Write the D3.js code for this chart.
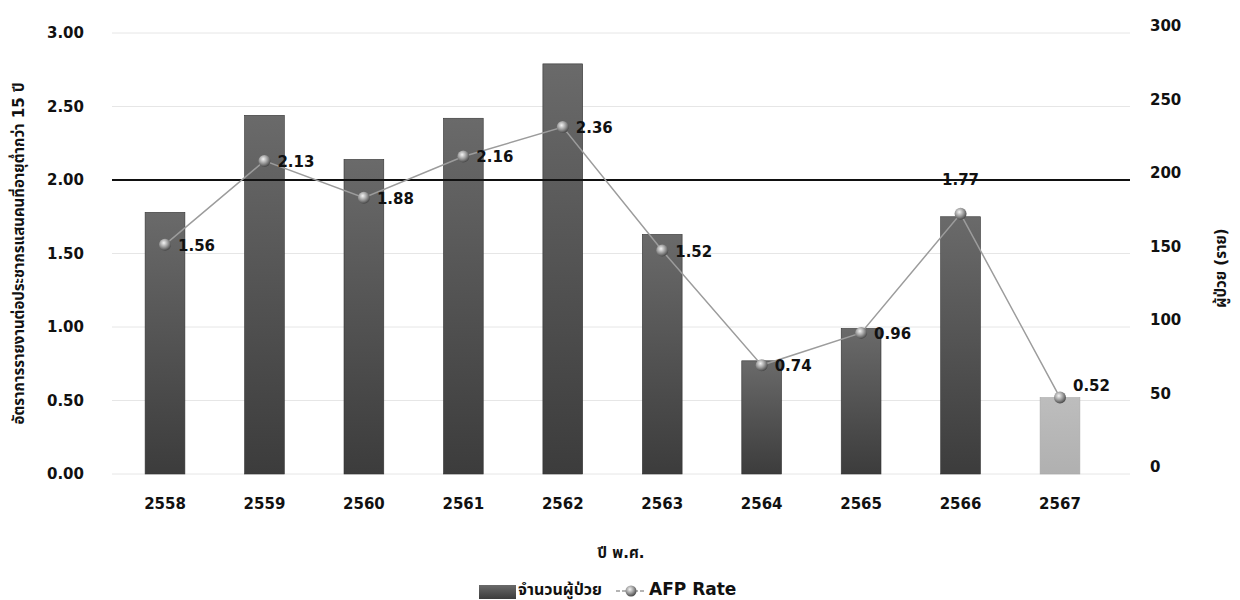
<!DOCTYPE html>
<html>
<head>
<meta charset="utf-8">
<script src="https://cdn.jsdelivr.net/npm/d3@7"></script>
<style>
  body { margin: 0; background: #fff; }
  text { font-family: "DejaVu Sans", Verdana, "Noto Sans Thai", "Noto Sans", sans-serif; font-weight: bold; fill: #111; }
</style>
</head>
<body>
<svg id="chart" width="1240" height="600"></svg>
<script>
const years = ["2558", "2559", "2560", "2561", "2562", "2563", "2564", "2565", "2566", "2567"]
const cases = [178, 244, 214, 242, 279, 163, 77, 99, 175, 52]
const afpRate = [1.56, 2.13, 1.88, 2.16, 2.36, 1.52, 0.74, 0.96, 1.77, 0.52]
const leftTicks = [0, 0.5, 1, 1.5, 2, 2.5, 3]
const rightTicks = [0, 50, 100, 150, 200, 250, 300]
const target = 2.0

const margin = { left: 112, right: 110, top: 33, bottom: 126 }
const width = 1240
const height = 600

const svg = d3.select("#chart")

const defs = svg.append("defs")
const barGrad = defs.append("linearGradient").attr("id", "barGrad").attr("x1", 0).attr("y1", 0).attr("x2", 0).attr("y2", 1)
barGrad.append("stop").attr("offset", "0%").attr("stop-color", "#6a6a6a")
barGrad.append("stop").attr("offset", "100%").attr("stop-color", "#3c3c3c")
const lastGrad = defs.append("linearGradient").attr("id", "lastGrad").attr("x1", 0).attr("y1", 0).attr("x2", 0).attr("y2", 1)
lastGrad.append("stop").attr("offset", "0%").attr("stop-color", "#bdbdbd")
lastGrad.append("stop").attr("offset", "100%").attr("stop-color", "#b0b0b0")
const ball = defs.append("radialGradient").attr("id", "ball").attr("cx", "40%").attr("cy", "35%").attr("r", "65%")
ball.append("stop").attr("offset", "0%").attr("stop-color", "#f4f4f4")
ball.append("stop").attr("offset", "55%").attr("stop-color", "#9a9a9a")
ball.append("stop").attr("offset", "100%").attr("stop-color", "#4a4a4a")

// band step ~99px, first bar centred near x=165
const xScale = d3.scaleBand()
                 .domain(years)
                 .range([margin.left, 1113])
                 .paddingInner(0.6)
                 .paddingOuter(0.333)

const yLeft = d3.scaleLinear().domain([0, 3]).range([height - margin.bottom, margin.top])
const yRight = d3.scaleLinear().domain([0, 300]).range([height - margin.bottom, margin.top])
const cx = (d) => xScale(d) + xScale.bandwidth() / 2

// grid lines
svg.append("g")
   .selectAll("line")
   .data(leftTicks)
   .join("line")
   .attr("x1", margin.left)
   .attr("x2", width - margin.right)
   .attr("y1", (d) => yLeft(d))
   .attr("y2", (d) => yLeft(d))
   .attr("stroke", "#e6e6e6")
   .attr("stroke-width", 1)

// bars
svg.append("g")
   .selectAll("rect")
   .data(years)
   .join("rect")
   .attr("x", (d) => xScale(d))
   .attr("y", (d, i) => yRight(cases[i]))
   .attr("width", xScale.bandwidth())
   .attr("height", (d, i) => yRight(0) - yRight(cases[i]))
   .attr("fill", (d, i) => i === years.length - 1 ? "url(#lastGrad)" : "url(#barGrad)")
   .attr("stroke", (d, i) => i === years.length - 1 ? "#a8a8a8" : "#333")
   .attr("stroke-width", 0.6)

// target line
svg.append("line")
   .attr("x1", margin.left)
   .attr("x2", width - margin.right)
   .attr("y1", yLeft(target))
   .attr("y2", yLeft(target))
   .attr("stroke", "#111")
   .attr("stroke-width", 1.8)

// rate line
const line = d3.line()
               .x((d, i) => cx(years[i]))
               .y((d) => yLeft(d))

svg.append("path")
   .datum(afpRate)
   .attr("d", line)
   .attr("fill", "none")
   .attr("stroke", "#9c9c9c")
   .attr("stroke-width", 1.5)

svg.append("g")
   .selectAll("circle")
   .data(afpRate)
   .join("circle")
   .attr("cx", (d, i) => cx(years[i]))
   .attr("cy", (d) => yLeft(d))
   .attr("r", 6)
   .attr("fill", "url(#ball)")

// value labels
svg.append("g")
   .selectAll("text")
   .data(afpRate)
   .join("text")
   .attr("x", (d, i) => i === 8 ? cx(years[i]) : cx(years[i]) + 13)
   .attr("y", (d, i) => i === 8 ? yLeft(d) - 29 : i === 9 ? yLeft(d) - 7 : yLeft(d) + 6)
   .attr("text-anchor", (d, i) => i === 8 ? "middle" : "start")
   .style("font-size", "15px")
   .text((d) => d.toFixed(2))

// axes
const xAxis = d3.axisBottom(xScale).tickSize(0).tickPadding(24)
const yAxisL = d3.axisLeft(yLeft).tickValues(leftTicks).tickFormat(d3.format(".2f")).tickSize(0).tickPadding(28)
const yAxisR = d3.axisRight(yRight).tickValues(rightTicks).tickSize(0).tickPadding(20)

svg.append("g")
   .attr("class", "x-axis")
   .attr("transform", `translate(0, ${yLeft(0)})`)
   .call(xAxis)

svg.append("g")
   .attr("class", "y-axis")
   .attr("transform", `translate(${margin.left}, 0)`)
   .call(yAxisL)

svg.append("g")
   .attr("class", "y-axis-right")
   .attr("transform", `translate(${width - margin.right}, -7)`)
   .call(yAxisR)

svg.selectAll(".domain").remove()
svg.selectAll(".tick text").style("font-size", "15px").style("font-family", "\"DejaVu Sans\", Verdana, sans-serif").attr("fill", "#111")

// axis titles
svg.append("text")
   .attr("transform", `translate(24, ${(yLeft(0) + yLeft(3)) / 2}) rotate(-90)`)
   .attr("text-anchor", "middle")
   .style("font-size", "15px")
   .text("อัตราการรายงานต่อประชากรแสนคนที่อายุต่ำกว่า 15 ปี")

svg.append("text")
   .attr("transform", `translate(1226, 268) rotate(-90)`)
   .attr("text-anchor", "middle")
   .style("font-size", "15px")
   .text("ผู้ป่วย (ราย)")

svg.append("text")
   .attr("x", 621)
   .attr("y", 558)
   .attr("text-anchor", "middle")
   .style("font-size", "15px")
   .text("ปี พ.ศ.")

// legend
const legend = svg.append("g").attr("transform", "translate(479, 595)")
legend.append("rect")
      .attr("x", 0).attr("y", -10).attr("width", 37).attr("height", 14)
      .attr("fill", "url(#barGrad)")
legend.append("text")
      .attr("x", 39).attr("y", 0)
      .style("font-size", "16px")
      .text("จำนวนผู้ป่วย")
legend.append("line")
      .attr("x1", 137).attr("x2", 165).attr("y1", -4).attr("y2", -4)
      .attr("stroke", "#9c9c9c").attr("stroke-width", 1.5).attr("stroke-dasharray", "4,2")
legend.append("circle")
      .attr("cx", 152).attr("cy", -4).attr("r", 5.5)
      .attr("fill", "url(#ball)")
legend.append("text")
      .attr("x", 170).attr("y", 0)
      .style("font-size", "17px")
      .text("AFP Rate")
</script>
</body>
</html>
